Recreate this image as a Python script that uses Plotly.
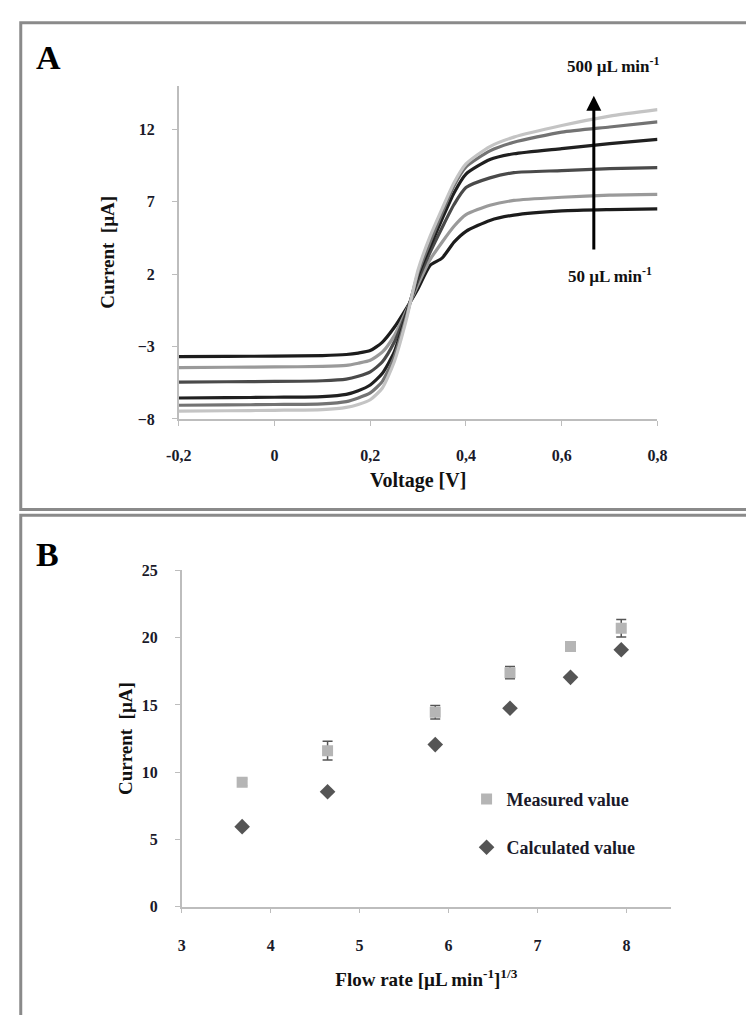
import plotly.graph_objects as go

# ---------------- Panel A data ----------------
voltage = [-0.2, -0.1, 0.0, 0.1, 0.15, 0.175, 0.2, 0.225, 0.25, 0.275, 0.3,
           0.325, 0.35, 0.375, 0.4, 0.45, 0.5, 0.6, 0.7, 0.8]
cur_50 = [-3.7, -3.68, -3.66, -3.62, -3.55, -3.45, -3.28, -2.71, -1.69, -0.4, 1.0,
          2.6, 3.1, 4.2, 4.95, 5.7, 6.07, 6.36, 6.45, 6.5]
cur_100 = [-4.45, -4.43, -4.41, -4.37, -4.3, -4.15, -3.95, -3.39, -2.26, -0.55, 1.3,
           3.0, 4.2, 5.3, 6.1, 6.75, 7.08, 7.3, 7.45, 7.5]
cur_200 = [-5.45, -5.43, -5.41, -5.36, -5.25, -5.05, -4.75, -4.07, -2.71, -0.7, 1.6,
           3.5, 5.2, 6.8, 7.97, 8.64, 9.0, 9.14, 9.28, 9.35]
cur_300 = [-6.55, -6.53, -6.5, -6.45, -6.3, -6.05, -5.65, -4.86, -3.39, -0.85, 1.9,
           3.9, 5.8, 7.6, 8.9, 9.9, 10.3, 10.66, 11.0, 11.3]
cur_400 = [-7.05, -7.03, -7.0, -6.95, -6.8, -6.55, -6.2, -5.42, -3.73, -1.0, 2.1,
           4.2, 6.2, 8.1, 9.4, 10.5, 11.1, 11.8, 12.15, 12.5]
cur_500 = [-7.45, -7.43, -7.4, -7.35, -7.2, -7.0, -6.67, -5.88, -4.07, -1.2, 2.3,
           4.6, 6.5, 8.3, 9.6, 10.8, 11.45, 12.25, 12.9, 13.35]
curves = [cur_50, cur_100, cur_200, cur_300, cur_400, cur_500]
curve_names = ["50", "100", "200", "300", "400", "500"]
curve_colors = ["#1c1c1c", "#9a9a9a", "#4a4a4a", "#202020", "#737373", "#c4c4c4"]

a_xticks = [-0.2, 0.0, 0.2, 0.4, 0.6, 0.8]
a_xtext = ["-0,2", "0", "0,2", "0,4", "0,6", "0,8"]
a_yticks = [-8, -3, 2, 7, 12]

# ---------------- Panel B data ----------------
flow_cuberoot = [3.68, 4.64, 5.85, 6.69, 7.37, 7.94]
measured = [9.25, 11.6, 14.45, 17.4, 19.35, 20.7]
measured_err = [0.25, 0.7, 0.5, 0.45, 0.35, 0.65]
calculated = [5.95, 8.55, 12.05, 14.75, 17.05, 19.1]
b_xticks = [3, 4, 5, 6, 7, 8]
b_yticks = [0, 5, 10, 15, 20, 25]

W, H = 746, 1015
FONT = "Liberation Serif"
TICKCOL = "#1a1a2a"
AXCOL = "#bdbdbd"

def px(x):
    return x / W

def py(y):
    return 1 - y / H

fig = go.Figure()

for vals, name, col in zip(curves, curve_names, curve_colors):
    fig.add_trace(go.Scatter(
        x=voltage, y=vals, mode="lines", name=name,
        line=dict(color=col, width=3.2, shape="spline", smoothing=0.6),
        xaxis="x", yaxis="y", showlegend=False))

fig.add_trace(go.Scatter(
    x=flow_cuberoot, y=measured, mode="markers", name="Measured value",
    marker=dict(symbol="square", size=11, color="#b5b5b5"),
    error_y=dict(type="data", array=measured_err, color="#555555",
                 thickness=1.5, width=5),
    xaxis="x2", yaxis="y2", legend="legend"))
fig.add_trace(go.Scatter(
    x=flow_cuberoot, y=calculated, mode="markers", name="Calculated value",
    marker=dict(symbol="diamond", size=12, color="#555555"),
    xaxis="x2", yaxis="y2", legend="legend2"))

tickfont = dict(family=FONT, size=16, color=TICKCOL, weight="bold")
axis_common = dict(showgrid=False, zeroline=False, showline=True,
                   linecolor=AXCOL, linewidth=1.5, ticks="outside",
                   ticklen=5, tickcolor=AXCOL, tickwidth=1.2,
                   tickfont=tickfont)
title_font = dict(family=FONT, size=19, color="#111", weight="bold")

fig.update_layout(
    width=W, height=H, margin=dict(l=0, r=0, t=0, b=0),
    paper_bgcolor="white", plot_bgcolor="white",
    font=dict(family=FONT, color="#111111"),
    xaxis=dict(domain=[px(171), px(665)], range=[-0.2, 0.8],
               tickvals=a_xticks, ticktext=a_xtext, anchor="y",
               ticklabelstandoff=16,
               title=dict(text="Voltage [V]", font=dict(title_font, size=20),
                          standoff=10),
               **axis_common),
    yaxis=dict(domain=[py(418), py(79)], range=[-8, 15],
               tickvals=a_yticks, anchor="x", ticklabelstandoff=14,
               title=dict(text="Current  [µA]", font=title_font, standoff=18),
               **axis_common),
    xaxis2=dict(domain=[px(174), px(679)], range=[3, 8.5],
                tickvals=b_xticks, anchor="y2", ticklabelstandoff=18,
                title=dict(text="Flow rate [µL min<sup>-1</sup>]<sup>1/3</sup>",
                           font=title_font, standoff=20),
                **axis_common),
    yaxis2=dict(domain=[py(914), py(572)], range=[0, 25],
                tickvals=b_yticks, anchor="x2", ticklabelstandoff=14,
                title=dict(text="Current  [µA]", font=title_font, standoff=4),
                **axis_common),
    legend=dict(x=px(468), y=py(786), xanchor="left", yanchor="top",
                bgcolor="rgba(0,0,0,0)",
                font=dict(family=FONT, size=18, color="#1a1a2a", weight="bold"),
                itemwidth=30, tracegroupgap=0),
    legend2=dict(x=px(468), y=py(835), xanchor="left", yanchor="top",
                 bgcolor="rgba(0,0,0,0)",
                 font=dict(family=FONT, size=18, color="#1a1a2a", weight="bold"),
                 itemwidth=30),
)

# panel frames
fig.add_shape(type="rect", xref="paper", yref="paper",
              x0=px(8), x1=px(760), y0=py(510), y1=py(15),
              line=dict(color="#8a8a8a", width=3))
fig.add_shape(type="rect", xref="paper", yref="paper",
              x0=px(8), x1=px(760), y0=py(1030), y1=py(516),
              line=dict(color="#8a8a8a", width=3))

# panel letters
fig.add_annotation(text="<b>A</b>", xref="paper", yref="paper",
                   x=px(22), y=py(50), xanchor="left", yanchor="middle",
                   showarrow=False, font=dict(family=FONT, size=34, color="#000"))
fig.add_annotation(text="<b>B</b>", xref="paper", yref="paper",
                   x=px(22), y=py(556), xanchor="left", yanchor="middle",
                   showarrow=False, font=dict(family=FONT, size=34, color="#000"))

# arrow and labels in panel A
fig.add_annotation(x=0.667, y=14.3, ax=0.667, ay=3.6, xref="x", yref="y",
                   axref="x", ayref="y", text="", showarrow=True,
                   arrowhead=2, arrowsize=1, arrowwidth=3, arrowcolor="#000")
fig.add_annotation(text="<b>500 µL min<sup>-1</sup></b>", xref="paper", yref="paper",
                   x=px(620), y=py(58), xanchor="center", yanchor="middle",
                   showarrow=False, font=dict(family=FONT, size=17, color="#111"))
fig.add_annotation(text="<b>50 µL min<sup>-1</sup></b>", xref="paper", yref="paper",
                   x=px(616), y=py(272), xanchor="center", yanchor="middle",
                   showarrow=False, font=dict(family=FONT, size=17, color="#111"))

fig.write_html("out.html")
